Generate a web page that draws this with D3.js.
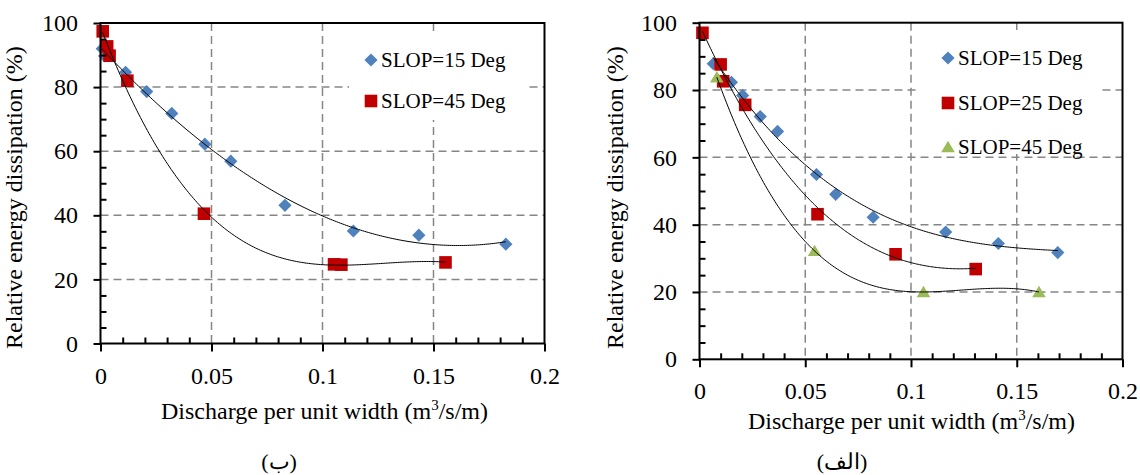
<!DOCTYPE html>
<html>
<head>
<meta charset="utf-8">
<script src="https://cdn.jsdelivr.net/npm/d3@7"></script>
<style>
    body { margin: 0; background: #fff; }
    svg { display: block; }
    text { font-family: "Liberation Serif", "Times New Roman", serif; fill: #000; }
</style>
</head>
<body>
<svg id="chart" width="1140" height="475"></svg>
<script>

// values

// panel (ب)
var leftQ15 = [ 0.0008, 0.0018, 0.0113, 0.0208, 0.0321, 0.0470, 0.0587, 0.0831, 0.1139, 0.1434, 0.1826 ];
var leftE15 = [ 92.0, 89.7, 84.6, 78.6, 71.8, 62.2, 56.9, 43.1, 35.1, 33.8, 31.0 ];
var leftQ45 = [ 0.0010, 0.0030, 0.0041, 0.0121, 0.0466, 0.1052, 0.1085, 0.1554 ];
var leftE45 = [ 97.4, 92.7, 89.8, 82.0, 40.5, 24.7, 24.6, 25.3 ];

// panel (الف)
var rightQ15 = [ 0.0065, 0.0151, 0.0204, 0.0287, 0.0369, 0.0553, 0.0644, 0.0821, 0.1164, 0.1413, 0.1694 ];
var rightE15 = [ 87.8, 82.3, 78.4, 72.1, 67.7, 54.9, 49.0, 42.2, 37.8, 34.4, 31.7 ];
var rightQ25 = [ 0.0014, 0.0100, 0.0112, 0.0216, 0.0558, 0.0927, 0.1306 ];
var rightE25 = [ 97.0, 87.6, 82.6, 75.6, 43.1, 31.2, 26.8 ];
var rightQ45 = [ 0.0082, 0.0544, 0.1059, 0.1605 ];
var rightE45 = [ 83.8, 32.2, 20.0, 20.0 ];

var xTicks = [ 0, 0.05, 0.1, 0.15, 0.2 ];
var yTicks = [ 0, 20, 40, 60, 80, 100 ];
var xGrid = [ 0.05, 0.1, 0.15 ];
var yGrid = [ 20, 40, 60, 80 ];

var xTitle = 'Discharge per unit width (m';
var yTitle = 'Relative energy dissipation (%)';

var colors = { 15: '#4F81BD', 25: '#C00000', 45: '#9BBB59' };

var svg = d3.select('#chart');

var shapes = {
    diamond: 'M0,-6.6L6.6,0L0,6.6L-6.6,0Z',
    square: 'M-6.3,-6.3H6.3V6.3H-6.3Z',
    triangle: 'M0,-6.2L6.8,5.2H-6.8Z'
};

// least squares polynomial, like an excel trendline
function polyFit ( xs, ys, order ) {

    var n = order + 1;
    var A = [], b = [];

    for ( var i = 0; i < n; i++ ) {
        A.push( [] );
        for ( var j = 0; j < n; j++ ) {
            A[i].push( d3.sum( xs, function ( x ) { return Math.pow( x * 10, i + j ); } ) );
        }
        b.push( d3.sum( xs, function ( x, k ) { return ys[k] * Math.pow( x * 10, i ); } ) );
    }

    for ( var c = 0; c < n; c++ ) {
        var p = c;
        for ( var r = c + 1; r < n; r++ ) {
            if ( Math.abs( A[r][c] ) > Math.abs( A[p][c] ) ) p = r;
        }
        var t = A[c]; A[c] = A[p]; A[p] = t;
        t = b[c]; b[c] = b[p]; b[p] = t;
        for ( var r2 = c + 1; r2 < n; r2++ ) {
            var f = A[r2][c] / A[c][c];
            for ( var k = c; k < n; k++ ) A[r2][k] -= f * A[c][k];
            b[r2] -= f * b[c];
        }
    }

    var coef = new Array( n );
    for ( var r3 = n - 1; r3 >= 0; r3-- ) {
        var s = b[r3];
        for ( var k2 = r3 + 1; k2 < n; k2++ ) s -= A[r3][k2] * coef[k2];
        coef[r3] = s / A[r3][r3];
    }

    return function ( x ) {
        return d3.sum( coef, function ( a, i ) { return a * Math.pow( x * 10, i ); } );
    };
}

function drawPanel ( cfg ) {

    var x = d3.scaleLinear().domain( [ 0, 0.2 ] ).range( [ cfg.left, cfg.right ] );
    var y = d3.scaleLinear().domain( [ 0, 100 ] ).range( [ cfg.bottom, cfg.top ] );

    var g = svg.append('g');

    // grid
    g.selectAll('.gx')
        .data( xGrid )
        .enter().append('line')
        .attr('x1', function ( d ) { return x( d ); })
        .attr('x2', function ( d ) { return x( d ); })
        .attr('y1', cfg.top)
        .attr('y2', cfg.bottom)
        .style('stroke', '#868686')
        .style('stroke-width', 1.5)
        .style('stroke-dasharray', '8,5');

    g.selectAll('.gy')
        .data( yGrid )
        .enter().append('line')
        .attr('x1', cfg.left)
        .attr('x2', cfg.right)
        .attr('y1', function ( d ) { return y( d ); })
        .attr('y2', function ( d ) { return y( d ); })
        .style('stroke', '#868686')
        .style('stroke-width', 1.5)
        .style('stroke-dasharray', '8,5');

    // markers
    cfg.series.forEach( function ( s ) {

        var pts = s.q.map( function ( q, i ) { return [ q, s.e[i] ]; });

        g.append('g').selectAll('path')
            .data( pts )
            .enter().append('path')
            .attr('d', shapes[ s.shape ])
            .attr('transform', function ( d ) { return 'translate(' + x( d[0] ) + ',' + y( d[1] ) + ')'; })
            .style('fill', s.color);
    });

    // trendlines
    cfg.series.forEach( function ( s ) {

        var fit = polyFit( s.q, s.e, 3 );
        var lo = d3.min( s.q ), hi = d3.max( s.q );
        var xs = d3.range( 0, 201 ).map( function ( i ) { return lo + ( hi - lo ) * i / 200; });

        g.append('path')
            .datum( xs )
            .attr('d', d3.line()
                .x( function ( d ) { return x( d ); })
                .y( function ( d ) { return y( fit( d ) ); }) )
            .style('fill', 'none')
            .style('stroke', '#000')
            .style('stroke-width', 1);
    });

    // axes
    var yAxis = g.append('g')
        .attr('transform', 'translate(' + cfg.left + ',0)')
        .call( d3.axisLeft( y ).tickValues( yTicks ).tickSize( 7 ).tickPadding( 15.5 ) );

    var yMinor = g.append('g')
        .attr('transform', 'translate(' + cfg.left + ',0)')
        .call( d3.axisRight( y ).tickValues( d3.range( 5, 100, 5 ).filter( function ( d ) { return d % 20; }) )
            .tickSize( 6 ).tickFormat('') );

    var xAxis = g.append('g')
        .attr('transform', 'translate(0,' + cfg.bottom + ')')
        .call( d3.axisBottom( x ).tickValues( xTicks ).tickSize( 8 ).tickPadding( 15 )
            .tickFormat( function ( d ) { return String( d ); }) );

    var xMinor = g.append('g')
        .attr('transform', 'translate(0,' + cfg.bottom + ')')
        .call( d3.axisTop( x ).tickValues( d3.range( 1, 20 ).filter( function ( d ) { return d % 5; })
            .map( function ( d ) { return d / 100; }) ).tickSize( 6 ).tickFormat('') );

    [ yAxis, yMinor, xAxis, xMinor ].forEach( function ( a ) {
        a.attr('font-family', null);
        a.select('.domain').remove();
        a.selectAll('line').style('stroke', '#000').style('stroke-width', 2);
        a.selectAll('text').style('font-size', '24px');
    });

    g.append('rect')
        .attr('x', cfg.left)
        .attr('y', cfg.top)
        .attr('width', cfg.right - cfg.left)
        .attr('height', cfg.bottom - cfg.top)
        .style('fill', 'none')
        .style('stroke', '#000')
        .style('stroke-width', 2);

    // legend
    var lg = g.append('g');

    lg.append('rect')
        .attr('x', cfg.legend.x)
        .attr('y', cfg.legend.y)
        .attr('width', cfg.legend.w)
        .attr('height', cfg.legend.h)
        .style('fill', '#fff');

    cfg.series.forEach( function ( s, i ) {

        var ry = cfg.legend.rows[i];

        lg.append('path')
            .attr('d', shapes[ s.shape ])
            .attr('transform', 'translate(' + cfg.legend.mx + ',' + ry + ')')
            .style('fill', s.color);

        lg.append('text')
            .attr('x', cfg.legend.tx)
            .attr('y', ry + 7)
            .style('font-size', '21px')
            .text( s.label );
    });

    // titles
    var xt = g.append('text')
        .attr('x', cfg.xTitle[0])
        .attr('y', cfg.xTitle[1])
        .style('font-size', '24px');
    xt.append('tspan').text( xTitle );
    xt.append('tspan').attr('dy', -9).style('font-size', '15px').text('3');
    xt.append('tspan').attr('dy', 9).text('/s/m)');

    g.append('text')
        .attr('transform', 'translate(' + cfg.yTitle[0] + ',' + cfg.yTitle[1] + ') rotate(-90)')
        .style('font-size', '24px')
        .text( yTitle );

    g.append('text')
        .attr('x', cfg.caption[0])
        .attr('y', cfg.caption[1])
        .attr('text-anchor', 'middle')
        .style('font-size', '22px')
        .text( cfg.caption[2] );
}

drawPanel({
    left: 100.5, right: 544.5, top: 23, bottom: 343.5,
    series: [
        { q: leftQ15, e: leftE15, shape: 'diamond', color: colors[15], label: 'SLOP=15 Deg' },
        { q: leftQ45, e: leftE45, shape: 'square', color: colors[25], label: 'SLOP=45 Deg' }
    ],
    legend: { x: 349, y: 35, w: 180, h: 85, mx: 371, tx: 381, rows: [ 60, 101 ] },
    xTitle: [ 161, 419 ],
    yTitle: [ 22, 349 ],
    caption: [ 279, 469, '(ب)' ]
});

drawPanel({
    left: 699.5, right: 1122.5, top: 22.7, bottom: 359.3,
    series: [
        { q: rightQ15, e: rightE15, shape: 'diamond', color: colors[15], label: 'SLOP=15 Deg' },
        { q: rightQ25, e: rightE25, shape: 'square', color: colors[25], label: 'SLOP=25 Deg' },
        { q: rightQ45, e: rightE45, shape: 'triangle', color: colors[45], label: 'SLOP=45 Deg' }
    ],
    legend: { x: 917, y: 30, w: 184, h: 124, mx: 948, tx: 958, rows: [ 58, 103, 147 ] },
    xTitle: [ 748, 429 ],
    yTitle: [ 623, 349 ],
    caption: [ 842, 469, '(الف)' ]
});

</script>
</body>
</html>
